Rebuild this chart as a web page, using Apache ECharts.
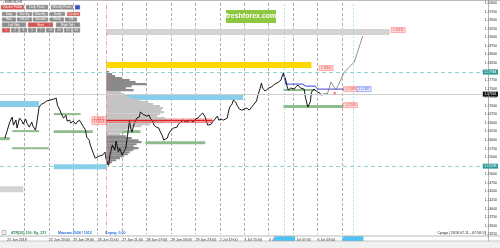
<!DOCTYPE html>
<html><head><meta charset="utf-8">
<script src="https://cdn.jsdelivr.net/npm/echarts/dist/echarts.min.js"></script>
<style>html,body{margin:0;padding:0;background:#fff;overflow:hidden}#c{width:500px;height:248px}</style>
</head><body><div id="c"></div><script>
// ---------- DATA ----------
const xLabels = ['21 Jun 2018','22 Jun 03:00','22 Jun 23:00','25 Jun 19:00','26 Jun 15:00','27 Jun 11:00','28 Jun 07:00','29 Jun 03:00','29 Jun 23:00','2 Jul 19:00','3 Jul 15:00','4 Jul 11:00','5 Jul 07:00','6 Jul 03:00','6 Jul 23:00'];
const priceLine = [
[4,1.16057],[6,1.16290],[8,1.16524],[10,1.16670],[11,1.16436],[13,1.16582],[14,1.16349],[16,1.16641],[18,1.16553],[19,1.16465],[21,1.16611],[22,1.16495],[24,1.16378],[26,1.16524],[27,1.16407],[29,1.16290],[30,1.16465],[32,1.16962],[34,1.17049],[36,1.17079],[38,1.17137],[41,1.17166],[42,1.17108],[44,1.17195],[46,1.17225],[47,1.17020],[49,1.16874],[50,1.16787],[52,1.16641],[54,1.16728],[55,1.16553],[57,1.16582],[58,1.16495],[60,1.16553],[62,1.16465],[63,1.16524],[65,1.16582],[66,1.16524],[68,1.16407],[70,1.16290],[71,1.16086],[73,1.15998],[74,1.15852],[76,1.15648],[78,1.15473],[79,1.15502],[81,1.15531],[82,1.15589],[84,1.15560],[86,1.15648],[87,1.15414],[89,1.15268],[90,1.15560],[92,1.15852],[94,1.15706],[95,1.15969],[97,1.15648],[98,1.15765],[100,1.15560],[102,1.15706],[103,1.15765],[105,1.16290],[106,1.16582],[107,1.16349],[108,1.16232],[110,1.16495],[112,1.16641],[114,1.16670],[115,1.16816],[117,1.16757],[118,1.16787],[120,1.16699],[122,1.16728],[123,1.16641],[125,1.16553],[126,1.16436],[128,1.16378],[130,1.16349],[131,1.16261],[133,1.16115],[134,1.15998],[135,1.15940],[137,1.16057],[138,1.16173],[140,1.16290],[142,1.16349],[145,1.16378],[146,1.16465],[148,1.16524],[150,1.16582],[152,1.16524],[154,1.16553],[156,1.16582],[158,1.16524],[160,1.16611],[162,1.16641],[164,1.16728],[166,1.16787],[168,1.16670],[170,1.16436],[171,1.16378],[173,1.16465],[174,1.16524],[176,1.16611],[178,1.16699],[179,1.16582],[181,1.16611],[183,1.16582],[186,1.16641],[187,1.16816],[188,1.16962],[190,1.17049],[191,1.17166],[193,1.17108],[194,1.17020],[196,1.16903],[198,1.16874],[199,1.16845],[202,1.16933],[204,1.16874],[206,1.16962],[208,1.17049],[210,1.17137],[211,1.17283],[213,1.17517],[214,1.17663],[215,1.17517],[217,1.17429],[218,1.17487],[220,1.17517],[222,1.17546],[223,1.17575],[225,1.17633],[226,1.17604],[228,1.17692],[230,1.17750],[231,1.17867],[232,1.17955],[234,1.17750],[235,1.17575],[236,1.17458],[238,1.17517],[239,1.17575],[241,1.17487],[242,1.17546],[244,1.17604],[246,1.17517],[247,1.17575],[249,1.17487],[250,1.17254],[252,1.16962],[254,1.17108],[255,1.17400],[257,1.17487],[258,1.17517],[260,1.17400],[262,1.17371],[263,1.17312],[265,1.17341],[266,1.17371],[268,1.17341]
];
const projection = [[268,1.17341],[271,1.17692],[275,1.17458],[282,1.17984],[290,1.18276],[297,1.19036]];
const maLine = [[232,1.17925],[234,1.17633],[248,1.17633],[250,1.17575],[258,1.17575],[260,1.17487],[282,1.17487]];
const profilePrices = [1.17984,1.17925,1.17867,1.17809,1.17750,1.17692,1.17633,1.17575,1.17517,1.17458,1.17400,1.17341,1.17283,1.17225,1.17166,1.17108,1.17049,1.16991,1.16933,1.16874,1.16816,1.16757,1.16699,1.16641,1.16582,1.16524,1.16465,1.16407,1.16349,1.16290,1.16232,1.16173,1.16115,1.16057,1.15998,1.15940,1.15881,1.15823,1.15765,1.15706,1.15648,1.15589,1.15531,1.15473,1.15414,1.15356,1.15297];
const profileVolumes = [24,48,72,128,192,240,328,208,160,224,120,144,160,200,280,344,384,440,464,448,472,440,416,480,528,464,360,288,208,160,128,112,160,208,264,288,248,224,264,216,192,176,144,112,80,48,24];
const valueArea = [1.16160, 1.17420];
const profileStart = 87;
const greyZones = [[87,319,1.19240,1.19065],[0,19,1.14653,1.14477]];
const yellowZones = [[87,255,1.18276,1.18101]];
const blueZones = [[87,199,1.17341,1.17166],[0,32,1.17137,1.16962],[44,87,1.15297,1.15151]];
const greenZones = [[0,8,1.16086,1.15998],[10,32,1.16290,1.16232],[10,40,1.15794,1.15735],[44,66,1.16787,1.16728],[44,76,1.16290,1.16203],[98,115,1.16290,1.16203],[102,110,1.15765,1.15706],[119,168,1.15969,1.15881],[232,258,1.17487,1.17429],[232,281,1.17020,1.16933]];
const pocZone = [87,174,1.16641,1.16495];
const pocLevels = [1.16582, 1.16530];
const levelLines = [1.17984, 1.15239];
const bidPrice = 1.17341;
const sessionLines = [233, 289];
const anchorLine = 87;
const redTags = [[326,1.19211,'1.19211'],[267,1.18101,'1.18101'],[287,1.17487,'1.17487'],[287,1.17020,'1.17020'],[81,1.16611,'1.16611'],[81,1.16524,'1.16524']];
const blueTags = [[298,1.17487,'1.17487']];
const redDots = [[274,1.17371]];

// ---------- CHART ----------
const chart = echarts.init(document.getElementById('c'), null, {renderer:'canvas'});
const FONT = 'Liberation Sans';
const gridColors = ['transparent'];
for (let i = 1; i <= 14; i++) gridColors.push('#9a9a9a');
for (let i = 15; i <= 20; i++) gridColors.push('transparent');

function area(z, color) {
  return [{xAxis:z[0], yAxis:z[2], itemStyle:{color}}, {xAxis:z[1], yAxis:z[3]}];
}
const areas = [];
greyZones.forEach(z => areas.push(area(z,'#d3d3d3')));
yellowZones.forEach(z => areas.push(area(z,'#ffd700')));
blueZones.forEach(z => areas.push(area(z,'#87ceeb')));
greenZones.forEach(z => areas.push(area(z,'#8fbc8f')));
areas.push(area(pocZone,'rgba(250,140,140,0.5)'));

function btn(x,y,w,h,text,fill){
  return {type:'group', children:[
    {type:'rect', shape:{x,y,width:w,height:h,r:0.5}, style:{fill, stroke:'#c0c0c0', lineWidth:0.5}},
    {type:'text', style:{x:x+w/2, y:y+h/2, text, fill:'#fff', font:'3px '+FONT, textAlign:'center', textVerticalAlign:'middle'}}
  ]};
}
const G='#8c8c8c', R='#d9534f';
const buttons = [
  btn(1,5,23,4.5,'Volume Profile',R), btn(26,5,22,4.5,'Daily Pivots',G), btn(51,5,22,4.5,'Weekly Pivots',G), btn(75,5,5,4.5,'','#3355cc'),
  btn(2,12,14,4,'Daily',G), btn(17,12,15,4,'Weekly',G), btn(33,12,15,4,'Monthly',G), btn(50,12,15,4,'Yearly',G), btn(67,12,13,4,'Custom',R),
  btn(2,17.5,14,4,'Hour',G), btn(17,17.5,15,4,'Hour4',G), btn(33,17.5,15,4,'Session',G), btn(50,17.5,14,4,'Week',G), btn(65,17.5,12,4,'CN',G),
  btn(2,22.5,24,4.5,'Left Side',G), btn(28,22.5,25,4.5,'Start',R), btn(56,22.5,24,4.5,'Right Side',G),
  btn(2,28,8,4.5,'1',R), btn(11,28,7.5,4.5,'2',G), btn(19.5,28,7.5,4.5,'3',G), btn(28,28,8,4.5,'5',G), btn(37,28,8,4.5,'7',G), btn(46,28,8,4.5,'10',G), btn(55,28,8,4.5,'14',G), btn(64,28,7.5,4.5,'20',G), btn(72.5,28,7.5,4.5,'30',G)
];
const tabNames = ['EURUSD,H1','EURUSD,M15','GBPUSD,H1','GBPUSD,M15','USDJPY,H1','USDJPY,M15','EURUSD,H4','GBPUSD,H4','USDJPY,H4'];
const tabs = tabNames.map((t,i)=>({type:'group', children:[
  {type:'rect', shape:{x:2+i*25.5, y:241.5, width:24.5, height:5.5}, style:{fill: i===1?'#ffffff':'#ececec', stroke:'#b0b0b0', lineWidth:0.5}},
  {type:'text', style:{x:2+i*25.5+12.25, y:244.3, text:t, fill:'#333', font:'3.2px '+FONT, textAlign:'center', textVerticalAlign:'middle'}}
]}));

const option = {
  animation:false,
  backgroundColor:'#ffffff',
  grid:{left:-5, right:12, top:3, bottom:13.7},
  xAxis:{type:'value', min:0, max:394.4, interval:20,
    axisLine:{show:false}, axisTick:{show:false},
    splitLine:{show:true, lineStyle:{color:gridColors, type:[3,2], width:0.8}},
    axisLabel:{show:true, fontSize:3.6, fontFamily:FONT, color:'#222', align:'left', margin:3.2,
      showMinLabel:true, showMaxLabel:false,
      formatter:v=>{ if (v>280) return ''; const i=Math.round(v/20); return i===0?'{f|'+xLabels[0]+'}':xLabels[i]; },
      rich:{f:{padding:[0,0,0,7], fontSize:3.6, fontFamily:FONT, color:'#222'}}}
  },
  yAxis:{type:'value', position:'right', min:1.1325, max:1.2000, interval:0.0025,
    axisLine:{show:false}, axisTick:{show:false}, splitLine:{show:false},
    axisLabel:{fontSize:3.4, fontFamily:FONT, color:'#222', margin:3, formatter:v=>v.toFixed(5)}
  },
  graphic:[
    {type:'line', shape:{x1:0,y1:0.5,x2:500,y2:0.5}, style:{stroke:'#bbbbbb', lineWidth:1}, z:100},
    {type:'line', shape:{x1:488.5,y1:0,x2:488.5,y2:241}, style:{stroke:'#888', lineWidth:0.6}, z:100},
    {type:'line', shape:{x1:0,y1:236,x2:500,y2:236}, style:{stroke:'#888', lineWidth:0.6}, z:100},
    {type:'rect', shape:{x:0,y:241,width:500,height:7}, style:{fill:'#f0f0f0'}, z:100},
    {type:'line', shape:{x1:0,y1:241,x2:500,y2:241}, style:{stroke:'#aaa', lineWidth:0.6}, z:100},
    {type:'text', style:{x:3, y:2.2, text:'▪ EURUSD,H1', fill:'#222', font:'3px '+FONT, textVerticalAlign:'middle'}, z:100},
    {type:'group', z:100, children:buttons},
    {type:'group', z:100, children:tabs},
    {type:'rect', shape:{x:226,y:10,width:50,height:13}, style:{fill:'#8dc63f'}, z:100},
    {type:'text', style:{x:251, y:16.5, text:'freshforex.com', fill:'#ffffff', font:'bold 7px '+FONT, textAlign:'center', textVerticalAlign:'middle'}, z:101},
    {type:'rect', shape:{x:2,y:230.5,width:4,height:4}, style:{fill:'#eee', stroke:'#888', lineWidth:0.5}, z:100},
    {type:'text', style:{x:11, y:233, text:'ATR(20) 100: Ед. 231', fill:'#2e8b57', font:'bold 3.6px '+FONT, textVerticalAlign:'middle'}, z:100},
    {type:'text', style:{x:58, y:233, text:'Максим 2024 / 1012', fill:'#1e6fd9', font:'bold 3.6px '+FONT, textVerticalAlign:'middle'}, z:100},
    {type:'text', style:{x:105, y:233, text:'Спред: 0,00', fill:'#1e6fd9', font:'bold 3.6px '+FONT, textVerticalAlign:'middle'}, z:100},
    {type:'text', style:{x:486, y:233, text:'Среда | 2018.07.11 - 07:58:17', fill:'#222', font:'3.6px '+FONT, textAlign:'right', textVerticalAlign:'middle'}, z:100}
  ],
  series:[
    {type:'custom', name:'profile', z:1, clip:true,
      data: profilePrices.map((p,i)=>[profileStart, p, profileVolumes[i]]),
      encode:{x:0, y:1},
      renderItem:(params, api)=>{
        const p = api.value(1), vol = api.value(2), step = 0.000584;
        const a = api.coord([profileStart, p + step/2]);
        const b = api.coord([profileStart + vol*0.1, p - step/2]);
        const inVA = p >= valueArea[0] && p <= valueArea[1];
        return {type:'rect', shape:{x:a[0], y:a[1], width:b[0]-a[0], height:b[1]-a[1]+0.2}, style:{fill: inVA?'#c4c4c4':'#8a8a8a'}};
      }
    },
    {type:'line', name:'zones', z:2, data:[], symbol:'none',
      markArea:{silent:true, data:areas},
      markLine:{silent:true, symbol:'none', precision:5, animation:false, data:[
        ...pocLevels.map((p,i)=>[{coord:[pocZone[0],p], lineStyle:{color: i===0?'#e02020':'#f07070', width: i===0?1.4:0.8, type:'solid'}, label:{show:false}},{coord:[pocZone[1],p]}]),
        ...levelLines.map(p=>({yAxis:p, lineStyle:{color:'#8fd3d3', width:1, type:[4,3]},
          label:{show:true, position:'end', distance:1, formatter:p.toFixed(5), fontSize:3.4, fontFamily:FONT, color:'#fff', backgroundColor:'#2a9d9d', padding:[1,1.5]}})),
        {yAxis:bidPrice, lineStyle:{color:'#cfcfcf', width:1, type:'solid'},
          label:{show:true, position:'end', distance:1, formatter:bidPrice.toFixed(5), fontSize:3.4, fontFamily:FONT, color:'#fff', backgroundColor:'#111', padding:[1,1.5]}},
        {xAxis:anchorLine, lineStyle:{color:'#f08080', width:0.8, type:[4,2,1,2]}, label:{show:false}},
        ...sessionLines.map(x=>({xAxis:x, lineStyle:{color:'#9ad8e8', width:0.8, type:[2,2]},
          label:{show:true, position:'start', distance:2, formatter:' ', fontSize:3.4, backgroundColor:'#4fc3f7', padding:[1,10], color:'#fff'}}))
      ]}
    },
    {type:'line', name:'ma', z:3, data:maLine, symbol:'none', lineStyle:{color:'#4040d0', width:1}},
    {type:'line', name:'projection', z:3, data:projection, symbol:'none', lineStyle:{color:'#777', width:0.8}},
    {type:'line', name:'price', z:4, data:priceLine, symbol:'none', lineStyle:{color:'#000', width:0.9}},
    {type:'scatter', name:'redTags', z:5, data:redTags, symbol:'rect', symbolSize:[14,5],
      itemStyle:{color:'#ffd0d0', borderColor:'#ff6060', borderWidth:0.5},
      label:{show:true, position:'inside', formatter:p=>p.data[2], fontSize:3, fontFamily:FONT, color:'#d02020'}},
    {type:'scatter', name:'blueTags', z:5, data:blueTags, symbol:'rect', symbolSize:[14,5],
      itemStyle:{color:'#e0e8ff', borderColor:'#4060ff', borderWidth:0.5},
      label:{show:true, position:'inside', formatter:p=>p.data[2], fontSize:3, fontFamily:FONT, color:'#2040d0'}},
    {type:'scatter', name:'dots', z:5, data:redDots, symbol:'rect', symbolSize:2.5, itemStyle:{color:'#f07070'}}
  ]
};
chart.setOption(option);
</script></body></html>
